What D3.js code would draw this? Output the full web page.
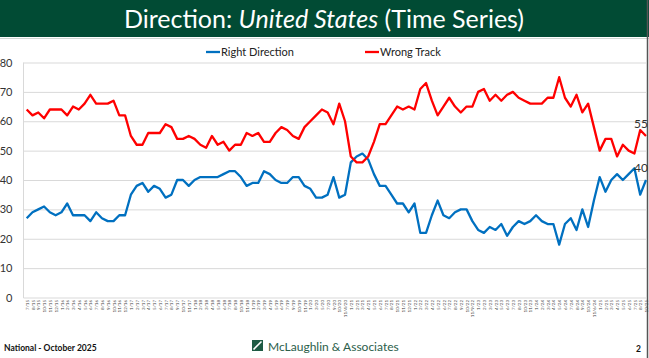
<!DOCTYPE html>
<html><head><meta charset="utf-8">
<script src="https://cdn.jsdelivr.net/npm/d3@7/dist/d3.min.js"></script>
<style>body{margin:0;background:#fff}svg{display:block}</style>
</head><body>
<script>
const periods = ["7/15","8/15","9/15","10/15","11/15","12/15","1/16","2/16","3/16","4/16","5/16","6/16","7/16","8/16","9/16","10/16","11/16","12/16",
"1/17","2/17","3/17","4/17","5/17","6/17","7/17","8/17","9/17","10/17","11/17",
"1/18","2/18","3/18","4/18","5/18","6/18","7/18","8/18","10/18","11/18",
"1/19","2/19","3/19","4/19","5/19","6/19","7/19","9/19","10/19","11/19",
"1/20","3/20","5/20","7/20","9/20","10/20","11/4/20",
"1/21","2/21","3/21","4/21","5/21","6/21","7/21","8/21","10/21","11/21","12/21",
"1/22","2/22","3/22","4/22","5/22","6/22","7/22","8/22","9/22","10/22","11/9/22",
"1/23","2/23","3/23","4/23","5/23","6/23","7/23","8/23","10/23","11/23",
"1/24","2/24","3/24","4/24","5/24","6/24","7/24","8/24","9/24","10/24","11/6/24",
"1/25","2/25","3/25","4/25","5/25","6/25","7/25","8/25","10/25"];
const rightDirection = [27,29,30,31,29,28,29,32,28,28,28,26,29,27,26,26,28,28,35,38,39,36,38,37,34,35,40,40,38,40,41,41,41,41,
42,43,43,41,38,39,39,43,42,40,39,39,41,41,38,37,34,34,35,41,34,35,46,48,49,47,42,38,38,35,32,32,29,32,22,22,28,33,28,27,29,30,30,26,23,22,24,23,25,21,24,26,25,26,28,26,
25,25,18,25,27,23,30,24,33,41,36,40,42,40,42,44,35,40];
const wrongTrack = [64,62,63,61,64,64,64,62,65,64,66,69,66,66,66,67,62,62,55,52,52,56,56,56,59,58,54,54,55,54,52,51,55,52,
53,50,52,52,56,55,56,53,53,56,58,57,55,54,58,60,62,64,63,59,66,60,48,46,46,48,53,59,59,62,65,64,65,64,71,73,67,62,65,68,65,63,65,65,70,71,67,69,67,69,70,68,67,66,66,66,
68,68,75,68,65,69,63,66,58,50,54,54,48,52,50,49,57,55];
const yTicks = [0,10,20,30,40,50,60,70,80];
const seriesNames = ["Right Direction","Wrong Track"];
const colors = ["#0070c0","#ff0000"];

const W=649,H=358;
const svg=d3.select("body").append("svg").attr("width",W).attr("height",H);
const font="Lato, 'Open Sans', sans-serif";

// title bar
svg.append("rect").attr("x",0).attr("y",0).attr("width",649).attr("height",37).attr("fill","#014b34");
svg.append("path").attr("d","M0,37 L6,37 L0,31 Z").attr("fill","#014b34");
svg.append("line").attr("x1",0).attr("x2",649).attr("y1",38.5).attr("y2",38.5).attr("stroke","#cfd8d3").attr("stroke-width",1);
svg.append("line").attr("x1",647.5).attr("x2",647.5).attr("y1",0).attr("y2",358).attr("stroke","#555").attr("stroke-width",1.5);
const t=svg.append("text").attr("x",324).attr("y",27.5).attr("text-anchor","middle").attr("fill","#fff")
  .attr("font-family",font).attr("font-size",25);
t.append("tspan").text("Direction: ");
t.append("tspan").attr("font-style","italic").text("United States");
t.append("tspan").text(" (Time Series)");

const x=d3.scalePoint().domain(periods).range([26.7,646]);
const y=d3.scaleLinear().domain([0,80]).range([297.5,62.5]);

// grid
svg.append("g").selectAll("line").data(yTicks).join("line")
  .attr("x1",23.5).attr("x2",646).attr("y1",d=>y(d)+0.5).attr("y2",d=>y(d)+0.5)
  .attr("stroke","#d9d9d9").attr("stroke-width",1);
svg.append("line").attr("x1",23.5).attr("x2",23.5).attr("y1",y(80)).attr("y2",y(0)+0.5).attr("stroke","#d9d9d9");

// y labels
const yAxis=d3.axisLeft(y).tickValues(yTicks).tickSize(0).tickPadding(0);
const gy=svg.append("g").attr("transform","translate(12.5,0)").call(yAxis);
gy.select(".domain").remove();
gy.selectAll("text").attr("font-family",font).attr("font-size",11).attr("fill","#333");

// x labels
const xAxis=d3.axisBottom(x).tickSize(0).tickPadding(0);
const gx=svg.append("g").attr("transform","translate(0,300)").call(xAxis);
gx.select(".domain").remove();
gx.selectAll("text").attr("font-family",font).attr("font-size",4.5).attr("fill","#444")
  .attr("x",0).attr("y",0).attr("dy","0.35em")
  .attr("transform","rotate(-90)").attr("text-anchor","end");

// lines
const line=d3.line().x((d,i)=>x(periods[i])).y(d=>y(d));
[rightDirection,wrongTrack].forEach((s,k)=>{
  svg.append("path").datum(s).attr("d",line).attr("fill","none").attr("stroke",colors[k])
    .attr("stroke-width",2.3).attr("stroke-linejoin","round");
});

// end labels
const last=periods.length-1;
[wrongTrack,rightDirection].forEach(s=>{
  svg.append("text").attr("x",x(periods[last])-5).attr("y",y(s[last])-8).attr("text-anchor","middle")
    .attr("font-family",font).attr("font-size",12).attr("fill","#333").text(s[last]);
});

// legend
const lg=[{n:seriesNames[0],c:colors[0],x:206},{n:seriesNames[1],c:colors[1],x:365}];
lg.forEach(l=>{
  svg.append("line").attr("x1",l.x).attr("x2",l.x+14).attr("y1",52).attr("y2",52).attr("stroke",l.c).attr("stroke-width",2.3);
  svg.append("text").attr("x",l.x+15).attr("y",56).attr("font-family",font).attr("font-size",11).attr("fill","#222").text(l.n);
});

// footer
svg.append("text").attr("x",4).attr("y",351).attr("font-family",font).attr("font-size",8.5).attr("font-weight","bold").attr("fill","#111").text("National - October 2025");
svg.append("rect").attr("x",252).attr("y",340).attr("width",11).attr("height",11).attr("fill","#1e5a43");
svg.append("line").attr("x1",253.5).attr("y1",349.5).attr("x2",261.5).attr("y2",341.5).attr("stroke","#fff").attr("stroke-width",1.6);
svg.append("text").attr("x",268).attr("y",351).attr("font-family",font).attr("font-size",12).attr("fill","#2b5e4a").text("McLaughlin & Associates");
svg.append("text").attr("x",641).attr("y",352).attr("text-anchor","end").attr("font-family",font).attr("font-size",8.5).attr("font-weight","bold").attr("fill","#111").text("2");
</script>
</body></html>
